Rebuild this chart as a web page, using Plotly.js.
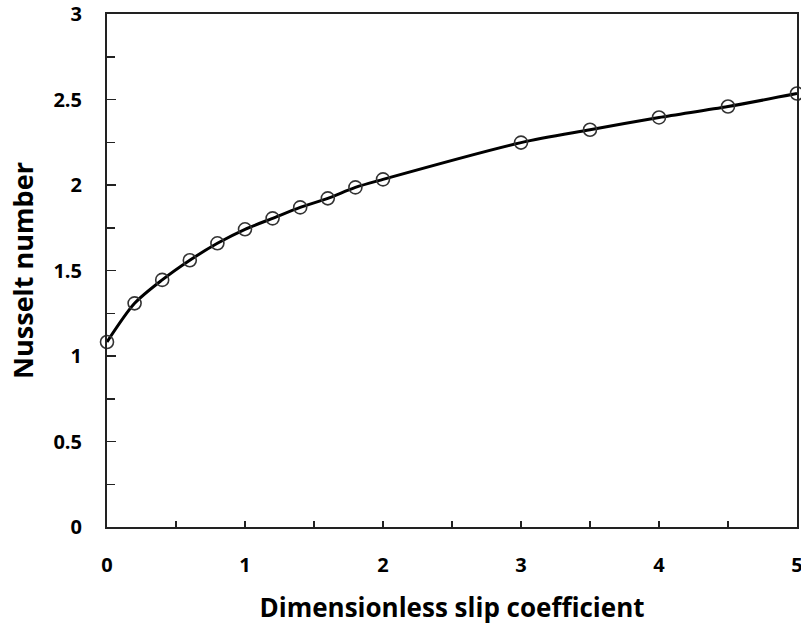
<!DOCTYPE html>
<html>
<head>
<meta charset="utf-8">
<script src="https://cdn.plot.ly/plotly-3.0.1.min.js"></script>
<style>html,body{margin:0;padding:0;background:#fff;}#chart{width:801px;height:625px;}</style>
</head>
<body>
<div id="chart"></div>
<script>
const slipCoefficient = [0, 0.2, 0.4, 0.6, 0.8, 1.0, 1.2, 1.4, 1.6, 1.8, 2.0, 3.0, 3.5, 4.0, 4.5, 5.0];
const nusseltNumber = [1.082, 1.308, 1.445, 1.56, 1.659, 1.741, 1.805, 1.869, 1.922, 1.986, 2.033, 2.248, 2.323, 2.395, 2.459, 2.535];
const xTickVals = [0, 1, 2, 3, 4, 5];
const yTickVals = [0, 0.5, 1, 1.5, 2, 2.5, 3];
const xTitle = 'Dimensionless slip coefficient';
const yTitle = 'Nusselt number';

const fontFam = '"Open Sans", "Noto Sans", sans-serif';

const traces = [
  {
    x: slipCoefficient, y: nusseltNumber, mode: 'lines',
    line: {color: '#000', width: 3, shape: 'spline', smoothing: 0.8},
    hoverinfo: 'skip', showlegend: false
  },
  {
    x: slipCoefficient, y: nusseltNumber, mode: 'markers',
    marker: {symbol: 'circle-open', size: 13, color: '#333', line: {width: 1.6, color: '#333'}},
    showlegend: false, cliponaxis: false
  }
];

const layout = {
  width: 801, height: 625,
  margin: {l: 107, r: 4, t: 14, b: 98},
  paper_bgcolor: '#fff', plot_bgcolor: '#fff',
  showlegend: false,
  font: {family: fontFam, color: '#000'},
  xaxis: {
    range: [0, 5], tickvals: xTickVals, ticktext: xTickVals.map(String),
    ticks: 'inside', ticklen: 6, tickwidth: 1.5, tickcolor: '#222',
    minor: {dtick: 0.5, ticks: 'inside', ticklen: 6, tickwidth: 1.5, tickcolor: '#222'},
    showline: true, linecolor: '#222', linewidth: 2, mirror: true,
    showgrid: false, zeroline: false,
    tickfont: {family: fontFam, size: 20, color: '#000', weight: 'bold'},
    ticklabelstandoff: 19, ticklabeloverflow: 'allow',
    title: {text: xTitle, font: {family: fontFam, size: 26, color: '#000', weight: 'bold'}, standoff: 27}
  },
  yaxis: {
    range: [0, 3], tickvals: yTickVals, ticktext: yTickVals.map(String),
    ticks: 'inside', ticklen: 9, tickwidth: 1.5, tickcolor: '#222',
    minor: {dtick: 0.25, ticks: 'inside', ticklen: 8, tickwidth: 1.5, tickcolor: '#222'},
    showline: true, linecolor: '#222', linewidth: 2, mirror: true,
    showgrid: false, zeroline: false,
    tickfont: {family: fontFam, size: 20, color: '#000', weight: 'bold'},
    ticklabelstandoff: 19,
    title: {text: yTitle, font: {family: fontFam, size: 27, color: '#000', weight: 'bold'}, standoff: 12}
  }
};

Plotly.newPlot('chart', traces, layout, {displayModeBar: false, staticPlot: true});
</script>
</body>
</html>
